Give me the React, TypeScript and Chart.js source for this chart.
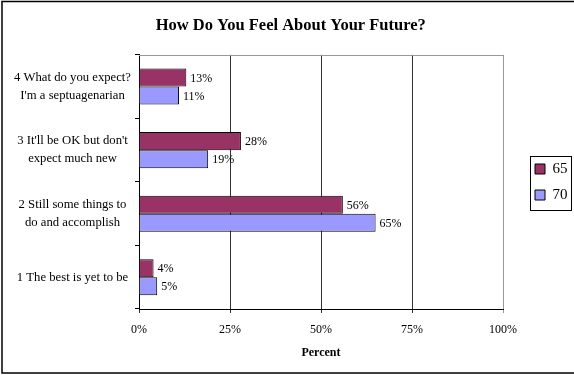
import React, { useEffect, useRef } from 'react';
import { Chart, registerables } from 'chart.js';

Chart.register(...registerables);

const SERIF = "'Liberation Serif', 'Times New Roman', serif";

const chartTitle = 'How Do You Feel About Your Future?';
const xAxisTitle = 'Percent';
const categories: string[][] = [
  ['4 What do you expect?', "I'm a septuagenarian"],
  ["3 It'll be OK but don't", 'expect much new'],
  ['2 Still some things to', 'do and accomplish'],
  ['1 The best is yet to be'],
];
const seriesNames = ['65', '70'];
const values65 = [13, 28, 56, 4];
const values70 = [11, 19, 65, 5];
const seriesColors = ['#993366', '#9999FF'];
const xMin = 0;
const xMax = 100;
const xStep = 25;

const decorPlugin = {
  id: 'decor',
  beforeDraw(chart: any) {
    const ctx = chart.ctx;
    ctx.save();
    ctx.fillStyle = '#ffffff';
    ctx.fillRect(0, 0, chart.width, chart.height);
    ctx.strokeStyle = '#000000';
    ctx.lineWidth = 1.5;
    ctx.strokeRect(2, 1.5, chart.width + 10, chart.height - 3.5);
    ctx.restore();
  },
  beforeDatasetsDraw(chart: any) {
    const { ctx, chartArea } = chart;
    ctx.save();
    ctx.strokeStyle = '#999999';
    ctx.lineWidth = 1;
    ctx.beginPath();
    ctx.moveTo(chartArea.left, Math.round(chartArea.top) + 0.5);
    ctx.lineTo(chartArea.right, Math.round(chartArea.top) + 0.5);
    ctx.stroke();
    ctx.restore();
  },
  afterDatasetsDraw(chart: any) {
    const ctx = chart.ctx;
    ctx.save();
    ctx.font = `12px ${SERIF}`;
    ctx.fillStyle = '#000000';
    ctx.textAlign = 'left';
    ctx.textBaseline = 'middle';
    chart.data.datasets.forEach((ds: any, i: number) => {
      const meta = chart.getDatasetMeta(i);
      meta.data.forEach((bar: any, j: number) => {
        ctx.fillText(`${ds.data[j]}%`, bar.x + 4, bar.y + 1);
      });
    });
    ctx.restore();
  },
  afterDraw(chart: any) {
    const legend = chart.legend;
    if (!legend || !legend.legendHitBoxes || !legend.legendHitBoxes.length) return;
    const hb = legend.legendHitBoxes;
    const top = hb[0].top - 6;
    const bottom = hb[hb.length - 1].top + hb[hb.length - 1].height + 6.5;
    const left = hb[0].left - 5;
    const right = 571;
    const ctx = chart.ctx;
    ctx.save();
    ctx.strokeStyle = '#000000';
    ctx.lineWidth = 1;
    ctx.strokeRect(Math.round(left) + 0.5, Math.round(top) + 0.5, Math.round(right - left), Math.round(bottom - top));
    ctx.restore();
  },
};

export default function App() {
  const canvasRef = useRef<HTMLCanvasElement | null>(null);

  useEffect(() => {
    if (!canvasRef.current) return;
    const chart = new Chart(canvasRef.current, {
      type: 'bar',
      data: {
        labels: categories,
        datasets: [
          {
            label: seriesNames[0],
            data: values65,
            backgroundColor: seriesColors[0],
            borderColor: '#000000',
            borderWidth: 1,
          },
          {
            label: seriesNames[1],
            data: values70,
            backgroundColor: seriesColors[1],
            borderColor: '#000000',
            borderWidth: 1,
          },
        ],
      },
      options: {
        indexAxis: 'y',
        animation: false,
        responsive: false,
        maintainAspectRatio: false,
        devicePixelRatio: 1,
        datasets: {
          bar: {
            categoryPercentage: 0.567,
            barPercentage: 1,
          },
        },
        layout: {
          padding: { left: 4, right: -3.5, top: 0, bottom: 11 },
        },
        plugins: {
          title: {
            display: true,
            text: chartTitle,
            color: '#000000',
            font: { family: SERIF, size: 16.5, weight: 'bold', lineHeight: 1.2 },
            padding: { top: 16, bottom: 19 },
          },
          legend: {
            display: true,
            position: 'right',
            labels: {
              color: '#000000',
              font: { family: SERIF, size: 15 },
              boxWidth: 10,
              boxHeight: 10,
              padding: 11,
            },
          },
          tooltip: { enabled: false },
        },
        scales: {
          x: {
            type: 'linear',
            position: 'bottom',
            min: xMin,
            max: xMax,
            ticks: {
              stepSize: xStep,
              color: '#000000',
              font: { family: SERIF, size: 12 },
              padding: 10,
              callback: (v: any) => `${v}%`,
            },
            grid: {
              display: true,
              drawOnChartArea: true,
              drawTicks: true,
              tickLength: 4,
              color: (ctx: any) => (ctx.tick && ctx.tick.value === xMax ? '#999999' : '#333333'),
              lineWidth: 1,
            },
            border: { display: true, color: '#000000', width: 1 },
            title: {
              display: true,
              text: xAxisTitle,
              color: '#000000',
              font: { family: SERIF, size: 12, weight: 'bold', lineHeight: 1.2 },
              padding: { top: 4, bottom: 4 },
            },
            afterFit: (scale: any) => {
              scale.height = 55;
            },
          },
          y: {
            type: 'category',
            position: 'left',
            ticks: {
              color: '#000000',
              font: { family: SERIF, size: 12.7, lineHeight: 1.42 },
              crossAlign: 'center',
              padding: 4,
            },
            grid: {
              display: true,
              drawOnChartArea: false,
              drawTicks: true,
              tickLength: 4,
              color: '#000000',
              offset: true,
            },
            border: { display: true, color: '#000000', width: 1 },
            afterFit: (scale: any) => {
              scale.width = 135;
            },
          },
          y2: {
            type: 'category',
            position: 'right',
            display: true,
            ticks: { display: false },
            grid: { display: false },
            border: { display: false },
            afterFit: (scale: any) => {
              scale.width = 21;
            },
          },
        },
      },
      plugins: [decorPlugin],
    } as any);
    return () => chart.destroy();
  }, []);

  return (
    <div style={{ position: 'fixed', left: 0, top: 0, width: 574, height: 375, background: '#ffffff' }}>
      <canvas ref={canvasRef} width={574} height={375} style={{ display: 'block', width: 574, height: 375 }} />
    </div>
  );
}
